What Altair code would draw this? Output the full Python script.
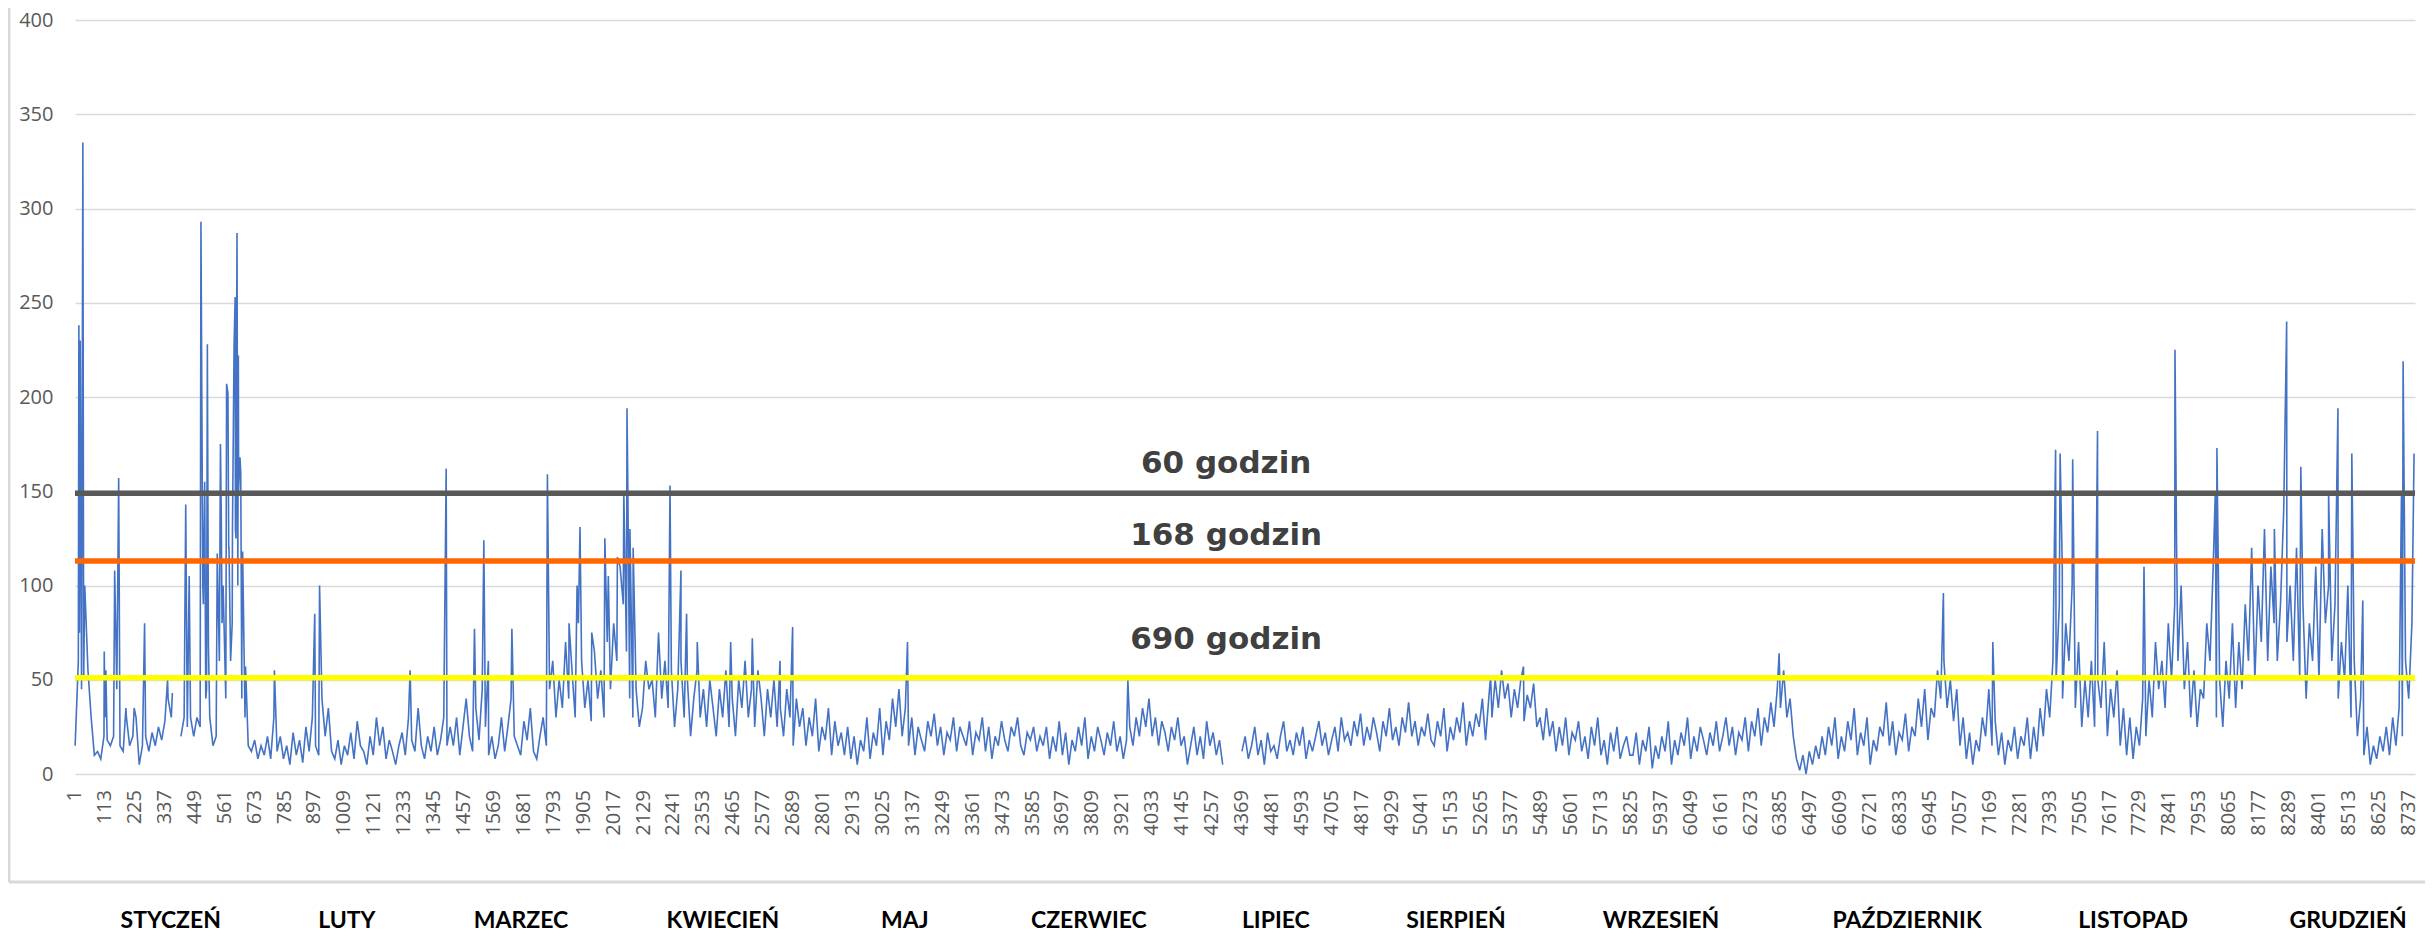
import altair as alt
import pandas as pd

# ---------------- data ----------------
days_in_month = [31, 28, 31, 30, 31, 30, 31, 31, 30, 31, 30, 31]
month_names = ["STYCZEŃ", "LUTY", "MARZEC", "KWIECIEŃ", "MAJ", "CZERWIEC",
               "LIPIEC", "SIERPIEŃ", "WRZESIEŃ", "PAŹDZIERNIK", "LISTOPAD", "GRUDZIEŃ"]

# values every 12 hours inside each month (None = missing data)
jan = [15, 60, 45, 100, 55, 30, 10, 12, 8, 20, 18, 15, 20, 45, 15, 12, 30, 15, 20, 30,
       5, 15, 20, 12, 22, 15, 25, 18, 28, 40, 30, None, None, 20, 30, 25, 30, 20, 30, 25,
       90, 45, 30, 15, 20, 60, 90, 40, 120, 80, 130, 150, 60, 30, 15, 12, 18, 8, 15, 10,
       20, 8]
feb = [30, 12, 20, 8, 15, 5, 22, 10, 18, 6, 25, 12, 30, 15, 10, 40, 20, 35, 12, 8,
       18, 5, 15, 10, 22, 8, 28, 15, 12, 5, 20, 10, 30, 15, 25, 8, 18, 12, 5, 15,
       22, 10, 30, 18, 12, 35, 15, 8, 20, 12, 25, 10, 18, 30, 15, 25]
mar = [15, 30, 10, 25, 40, 20, 12, 35, 18, 45, 25, 10, 20, 8, 15, 30, 12, 25, 40, 20,
       15, 10, 28, 18, 35, 12, 8, 20, 30, 15, 45, 60, 30, 50, 35, 70, 40, 55, 30, 80,
       60, 35, 50, 28, 65, 40, 55, 30, 70, 45, 80, 60, 110, 90, 65, 40, 30, 45, 25, 35,
       60, 45]
apr = [50, 30, 75, 40, 60, 35, 55, 25, 45, 60, 30, 50, 20, 40, 55, 30, 45, 25, 50, 35,
       20, 45, 30, 55, 25, 40, 20, 50, 35, 60, 30, 45, 25, 55, 40, 20, 45, 30, 50, 25,
       35, 20, 45, 30, 15, 40, 25, 35, 15, 30, 20, 40, 12, 25, 18, 35, 10, 28, 15, 22]
may = [10, 25, 8, 20, 5, 18, 12, 30, 8, 22, 15, 35, 10, 28, 18, 40, 25, 45, 20, 35,
       15, 30, 10, 25, 18, 12, 28, 20, 32, 15, 25, 10, 22, 18, 30, 12, 25, 20, 15, 28,
       10, 22, 18, 30, 12, 25, 8, 20, 15, 28, 18, 12, 25, 20, 30, 15, 10, 22, 18, 25,
       12, 20]
jun = [15, 25, 8, 20, 12, 28, 10, 22, 5, 18, 12, 25, 15, 30, 8, 20, 12, 25, 18, 10,
       22, 15, 28, 12, 20, 8, 18, 25, 15, 30, 20, 35, 25, 40, 20, 30, 15, 28, 22, 12,
       25, 18, 30, 15, 20, 5, 15, 25, 10, 20, 8, 28, 15, 22, 10, 18, 5, None, None, None]
jul = [None, None, 12, 20, 8, 15, 25, 10, 18, 5, 22, 12, 15, 8, 20, 28, 12, 18, 10, 22,
       15, 25, 8, 18, 12, 20, 28, 15, 22, 10, 18, 25, 12, 30, 18, 22, 15, 28, 20, 32,
       15, 25, 18, 30, 22, 12, 28, 20, 35, 18, 25, 15, 30, 22, 38, 20, 28, 15, 25, 20,
       32, 18]
aug = [15, 28, 20, 35, 12, 25, 18, 30, 22, 38, 15, 28, 20, 32, 25, 40, 18, 40, 30, 50,
       35, 55, 40, 48, 30, 45, 35, 50, 28, 42, 35, 48, 25, 30, 18, 35, 20, 28, 12, 25,
       15, 30, 10, 22, 18, 28, 12, 20, 8, 25, 15, 30, 10, 18, 5, 22, 12, 25, 8, 15,
       20, 10]
sep = [10, 22, 5, 18, 12, 25, 3, 15, 8, 20, 12, 28, 5, 18, 10, 22, 15, 30, 8, 20,
       12, 25, 18, 10, 22, 15, 28, 12, 20, 30, 15, 25, 10, 22, 18, 30, 12, 28, 20, 35,
       15, 30, 22, 38, 25, 45, 35, 55, 30, 40, 20, 8, 2, 10, 0, 12, 5, 15, 8, 20]
oct_ = [10, 25, 15, 30, 8, 20, 12, 28, 18, 35, 10, 22, 15, 30, 5, 18, 12, 25, 20, 38,
        15, 28, 10, 22, 18, 32, 12, 25, 20, 40, 25, 45, 18, 35, 30, 55, 40, 60, 35, 50,
        28, 45, 15, 30, 8, 22, 5, 18, 12, 30, 20, 45, 15, 28, 10, 22, 5, 18, 12, 25,
        8, 20]
nov = [15, 30, 8, 25, 12, 35, 20, 45, 30, 60, 50, 90, 40, 80, 60, 100, 35, 70, 25, 50,
       30, 60, 25, 50, 35, 70, 20, 45, 30, 55, 15, 35, 10, 30, 8, 25, 15, 40, 20, 50,
       30, 70, 45, 60, 35, 80, 50, 90, 60, 100, 45, 70, 30, 55, 25, 45, 40, 80, 60, 110]
dec = [30, 50, 25, 60, 40, 80, 35, 70, 45, 90, 60, 120, 50, 100, 70, 130, 60, 110, 80, 60,
       90, 140, 70, 100, 60, 120, 50, 90, 40, 80, 60, 110, 50, 130, 80, 100, 60, 90, 40, 70,
       50, 100, 30, 60, 20, 40, 10, 25, 5, 15, 8, 20, 12, 25, 10, 30, 15, 35, 20, 60,
       40, 80]
month_series = [jan, feb, mar, apr, may, jun, jul, aug, sep, oct_, nov, dec]

# individual peaks / dips: hour of year and value
peak_hours = [15, 17, 20, 30, 33, 110, 113, 116, 149, 164, 191, 222, 261, 347, 365, 415, 428,
              472, 476, 479, 486, 490, 496, 500, 533, 545, 548, 551, 555, 568, 573, 576, 583,
              590, 596, 600, 603, 607, 610, 612, 618, 621, 625, 628, 639, 747,
              898, 916, 1255, 1390,
              1496, 1531, 1536, 1548, 1636, 1769, 1850, 1880, 1891, 1935, 1984, 1997, 2031,
              2055, 2067, 2070, 2078, 2090,
              2228, 2269, 2290, 2330, 2455, 2536, 2640, 2687,
              3085, 3117, 3942, 5300, 5423, 6380, 6995, 7180,
              7415, 7432, 7440, 7479, 7572, 7746, 7862, 7868, 8013, 8019,
              8234, 8280, 8333, 8437, 8472, 8524, 8565, 8710, 8716, 8757]
peak_values = [238, 75, 230, 335, 50, 65, 30, 55, 108, 157, 35, 35, 80, 50, 43, 143, 105,
               293, 180, 100, 155, 40, 228, 68, 117, 175, 138, 80, 100, 207, 202, 120, 60,
               130, 227, 253, 125, 287, 100, 222, 168, 160, 40, 118, 57, 55,
               85, 100, 55, 162,
               77, 124, 40, 60, 77, 159, 80, 100, 131, 75, 125, 105, 115,
               150, 194, 153, 130, 120,
               153, 108, 85, 70, 70, 72, 60, 78,
               45, 70, 50, 52, 57, 64, 96, 70,
               172, 170, 110, 167, 182, 110, 225, 120, 150, 173,
               130, 240, 163, 150, 194, 170, 92, 150, 219, 170]

tick_values = list(range(1, 8761, 112))
y_ticks = [0, 50, 100, 150, 200, 250, 300, 350, 400]

threshold_values = [149, 113, 51]
threshold_labels = ["60 godzin", "168 godzin", "690 godzin"]
threshold_colors = ["#595959", "#FF6600", "#FFFF00"]

# ---------------- build tables ----------------
rows = []
start = 1
for vals, nd in zip(month_series, days_in_month):
    for i, v in enumerate(vals):
        rows.append((start + 12 * i, v))
    start += 24 * nd
for h, v in zip(peak_hours, peak_values):
    rows.append((h, v))
df = pd.DataFrame(rows, columns=["godzina", "wartosc"]).sort_values("godzina")

# layout: where the month names sit along the hour axis (measured)
month_label_hours = [359, 1018, 1670, 2426, 3107, 3796, 4496, 5170, 5938, 6859, 7705, 8510]
months_df = pd.DataFrame({"godzina": month_label_hours, "miesiac": month_names})

ticks_df = pd.DataFrame({"godzina": tick_values, "etykieta": [str(t) for t in tick_values]})

thr_df = pd.DataFrame({"wartosc": threshold_values, "kolor": threshold_colors})

W, H = 2340, 754
xscale = alt.Scale(domain=[0.5, 8760.5], nice=False, zero=False)
yscale = alt.Scale(domain=[0, 400], nice=False)

line = alt.Chart(df).mark_line(color="#4472C4", strokeWidth=1.6,
                               invalid="break-paths-show-domains").encode(
    x=alt.X("godzina:Q", scale=xscale, title=None, axis=None),
    y=alt.Y("wartosc:Q", scale=yscale, title=None,
            axis=alt.Axis(values=y_ticks, format="d")),
)

# hour labels under the plot (rotated, reading upwards)
tick_labels = alt.Chart(ticks_df).mark_text(
    font="Open Sans", fontSize=20, color="#595959", angle=270, align="right",
    baseline="middle").encode(
    x=alt.X("godzina:Q", scale=xscale, title=None, axis=None),
    y=alt.value(H + 16),
    text="etykieta:N",
)

rules = alt.Chart(thr_df).mark_rule(strokeWidth=5.5).encode(
    y=alt.Y("wartosc:Q", scale=yscale, title=None),
    color=alt.Color("kolor:N", scale=None),
)

label_layers = []
for val, txt, dy in zip(threshold_values, threshold_labels, [-20, -16, -29]):
    ldf = pd.DataFrame({"godzina": [4310], "wartosc": [val], "tekst": [txt]})
    label_layers.append(
        alt.Chart(ldf).mark_text(font="DejaVu Sans", fontWeight="bold", fontSize=31,
                                 color="#404040", baseline="alphabetic", align="center",
                                 dy=dy).encode(
            x=alt.X("godzina:Q", scale=xscale, title=None, axis=None),
            y=alt.Y("wartosc:Q", scale=yscale, title=None),
            text="tekst:N",
        )
    )

months = alt.Chart(months_df).mark_text(font="Lato", fontWeight="bold", fontSize=23,
                                        color="#000000", baseline="alphabetic",
                                        align="center").encode(
    x=alt.X("godzina:Q", scale=xscale, title=None, axis=None),
    y=alt.value(908),
    text="miesiac:N",
)

frame_df = pd.DataFrame({"k": [0]})
frame_left = alt.Chart(frame_df).mark_rule(color="#D9D9D9", strokeWidth=3).encode(
    x=alt.value(-66), y=alt.value(-20), y2=alt.value(862))
frame_bottom = alt.Chart(frame_df).mark_rule(color="#D9D9D9", strokeWidth=3).encode(
    x=alt.value(-66), x2=alt.value(2360), y=alt.value(862))

chart = alt.layer(line, rules, *label_layers, tick_labels, months, frame_left,
                  frame_bottom).properties(
    width=W, height=H,
    autosize=alt.AutoSizeParams(type="none"),
    padding={"left": 67, "top": 12, "right": 10, "bottom": 161},
).configure_view(stroke=None).configure_axisY(
    grid=True, gridColor="#D9D9D9", gridWidth=1.5, domain=False, ticks=False,
    labelFont="Open Sans", labelFontSize=20, labelColor="#595959", labelPadding=22,
    labelOverlap=False,
)

chart.save("out.html", embed_options={"renderer": "svg", "actions": False})
